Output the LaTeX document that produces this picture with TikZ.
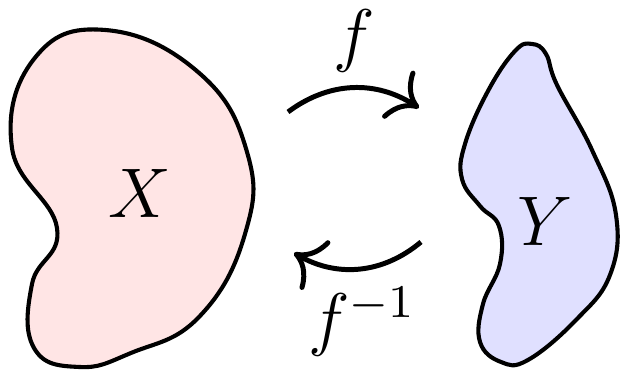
\documentclass[tikz,border=0pt]{standalone}
\usepackage{tikz}
\usepackage{xcolor}
\usetikzlibrary{arrows.meta}

\tikzset{
  ensemble/.style={draw=black, line width=0.7pt, line join=round},
  etiquette/.style={font=\large},
  fleche/.style={line width=0.85pt, -{To[length=1.6mm,width=3.4mm]}}
}

\begin{document}
\begin{tikzpicture}[x=0.06mm,y=0.06mm]

% Cadre de la figure
\useasboundingbox (0,0) rectangle (623,374);

% Ensemble X (haricot rose)
\draw[ensemble, fill=red!10]
plot[smooth cycle, tension=0.75] coordinates {
(105,344) (198,302) (247,222) (245,140) (199,57) (131,21)
(79,7) (34,26) (32,90) (57,146) (12,226) (34,315)};

% Ensemble Y (forme bleue)
\draw[ensemble, fill=blue!12]
plot[smooth cycle, tension=0.7] coordinates {
(515,323) (488,283) (465,230) (462,195) (480,168) (499,148)
(500,110) (483,70) (480,32) (501,12) (528,14) (576,54)
(610,99) (616,159) (592,224) (557,289) (546,320) (532,330)};

% Etiquettes
\node[etiquette] (X) at (140,180) {$X$};
\node[etiquette] (Y) at (545,152) {$Y$};
\node[etiquette] (f) at (354,333) {$f$};
\node[etiquette] (finv) at (362,52) {$f^{-1}$};

% Extremites des fleches
\coordinate (fdep) at (288,262);
\coordinate (farr) at (419,266);
\coordinate (gdep) at (421,132);
\coordinate (garr) at (294,121);

% Fleches
\draw[fleche] (fdep) to[bend left=35] (farr);
\draw[fleche] (gdep) to[bend left=35] (garr);

\end{tikzpicture}
\end{document}
